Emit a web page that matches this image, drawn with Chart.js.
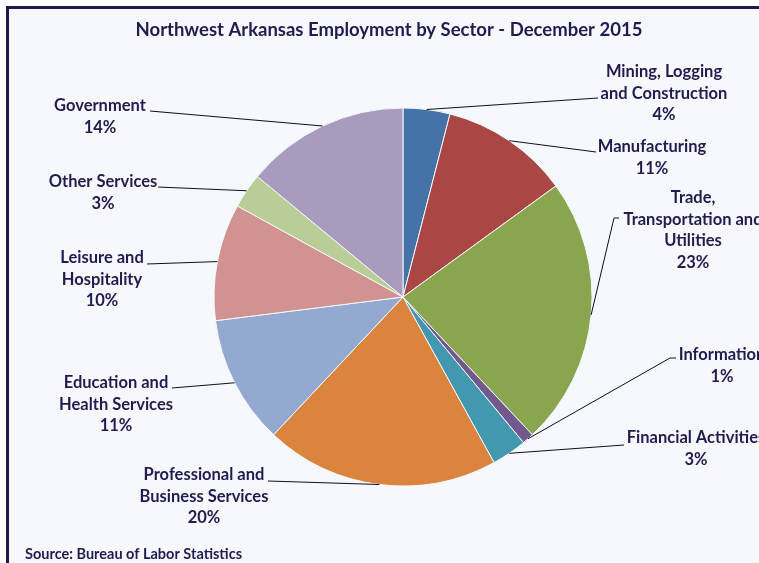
<!DOCTYPE html>
<html>
<head>
<meta charset="utf-8">
<title>Northwest Arkansas Employment by Sector</title>
<script src="https://cdn.jsdelivr.net/npm/chart.js@4.4.0/dist/chart.umd.min.js"></script>
<style>
  html, body { margin: 0; padding: 0; background: #ffffff; }
  #wrap { width: 759px; height: 563px; }
</style>
</head>
<body>
<div id="wrap"><canvas id="myChartSector" width="759" height="563"></canvas></div>
<script>
// Employment share by sector, December 2015 (percent)
const sectors = [
  "Mining, Logging and Construction",
  "Manufacturing",
  "Trade, Transportation and Utilities",
  "Information",
  "Financial Activities",
  "Professional and Business Services",
  "Education and Health Services",
  "Leisure and Hospitality",
  "Other Services",
  "Government"
];
const shares = [4, 11, 23, 1, 3, 20, 11, 10, 3, 14];

// how each sector name gets wrapped in its callout
const nameLines = [
  ["Mining, Logging", "and Construction"],
  ["Manufacturing"],
  ["Trade,", "Transportation and", "Utilities"],
  ["Information"],
  ["Financial Activities"],
  ["Professional and", "Business Services"],
  ["Education and", "Health Services"],
  ["Leisure and", "Hospitality"],
  ["Other Services"],
  ["Government"]
];

const sliceColors = [
  "#4572A7", "#AA4643", "#89A54E", "#71588F", "#4198AF",
  "#DB843D", "#93A9CF", "#D19392", "#B9CD96", "#A99BBD"
];

const titleText = "Northwest Arkansas Employment by Sector - December 2015";
const sourceText = "Source: Bureau of Labor Statistics";

// callout layout: text centre x, first line y, leader end point, optional elbow
const callouts = [
  { cx: 664, y: 72,  ex: 598, ey: 98 },
  { cx: 652, y: 147, ex: 596, ey: 152 },
  { cx: 693, y: 198, ex: 619, ey: 218, bx: 614, by: 218 },
  { cx: 722, y: 355, ex: 676, ey: 358, bx: 670, by: 358 },
  { cx: 696, y: 438, ex: 624, ey: 445 },
  { cx: 204, y: 475, ex: 268, ey: 481 },
  { cx: 116, y: 383, ex: 172, ey: 388 },
  { cx: 102, y: 258, ex: 147, ey: 264 },
  { cx: 103, y: 182, ex: 158, ey: 187 },
  { cx: 100, y: 106, ex: 150, ey: 111 }
];

const textColor = "#201C50";
const fontFamily = "Lato, 'Open Sans', sans-serif";
const lineGap = 21.5;

const frameAndLabels = {
  id: "frameAndLabels",
  beforeDraw(chart) {
    const ctx = chart.ctx;
    const w = chart.width;
    const h = chart.height;
    ctx.save();
    ctx.fillStyle = "#ffffff";
    ctx.fillRect(0, 0, w, h);
    ctx.fillStyle = "#F5F8FD";
    ctx.fillRect(7.5, 7.5, w, h);
    ctx.strokeStyle = "#1E1A4D";
    ctx.lineWidth = 3;
    ctx.strokeRect(7.5, 7.5, w + 10, h + 10);
    ctx.restore();
  },
  afterDraw(chart) {
    const ctx = chart.ctx;
    const arcs = chart.getDatasetMeta(0).data;
    const total = shares.reduce((a, b) => a + b, 0);
    ctx.save();

    // leader lines from the middle of each slice's rim
    ctx.strokeStyle = "#111111";
    ctx.lineWidth = 1;
    arcs.forEach((arc, i) => {
      const p = arc.getProps(["x", "y", "startAngle", "endAngle", "outerRadius"], true);
      const mid = (p.startAngle + p.endAngle) / 2;
      const sx = p.x + Math.cos(mid) * p.outerRadius;
      const sy = p.y + Math.sin(mid) * p.outerRadius;
      const c = callouts[i];
      ctx.beginPath();
      ctx.moveTo(sx, sy);
      if (c.bx !== undefined) ctx.lineTo(c.bx, c.by);
      ctx.lineTo(c.ex, c.ey);
      ctx.stroke();
    });

    // callout text
    ctx.fillStyle = textColor;
    ctx.font = "bold 16.5px " + fontFamily;
    ctx.textAlign = "center";
    ctx.textBaseline = "middle";
    arcs.forEach((arc, i) => {
      const c = callouts[i];
      const pct = Math.round(shares[i] / total * 100) + "%";
      const lines = nameLines[i].concat([pct]);
      lines.forEach((t, k) => ctx.fillText(t, c.cx, c.y + k * lineGap));
    });

    // title and source
    ctx.font = "bold 18.5px " + fontFamily;
    ctx.fillText(titleText, 389, 30);
    ctx.font = "bold 14.5px " + fontFamily;
    ctx.textAlign = "left";
    ctx.fillText(sourceText, 25, 554);
    ctx.restore();
  }
};

const dataSector = {
  labels: sectors,
  datasets: [
    {
      label: "Share of employment",
      data: shares,
      backgroundColor: sliceColors,
      borderColor: "#F5F8FD",
      borderWidth: 1
    }
  ]
};

const configSector = {
  type: "pie",
  data: dataSector,
  options: {
    responsive: false,
    animation: false,
    radius: 189,
    layout: { padding: { left: 47, right: 0, top: 31, bottom: 0 } },
    plugins: {
      legend: { display: false },
      tooltip: { enabled: false }
    }
  },
  plugins: [frameAndLabels]
};

const myChartSector = new Chart(document.getElementById("myChartSector"), configSector);
</script>
</body>
</html>
